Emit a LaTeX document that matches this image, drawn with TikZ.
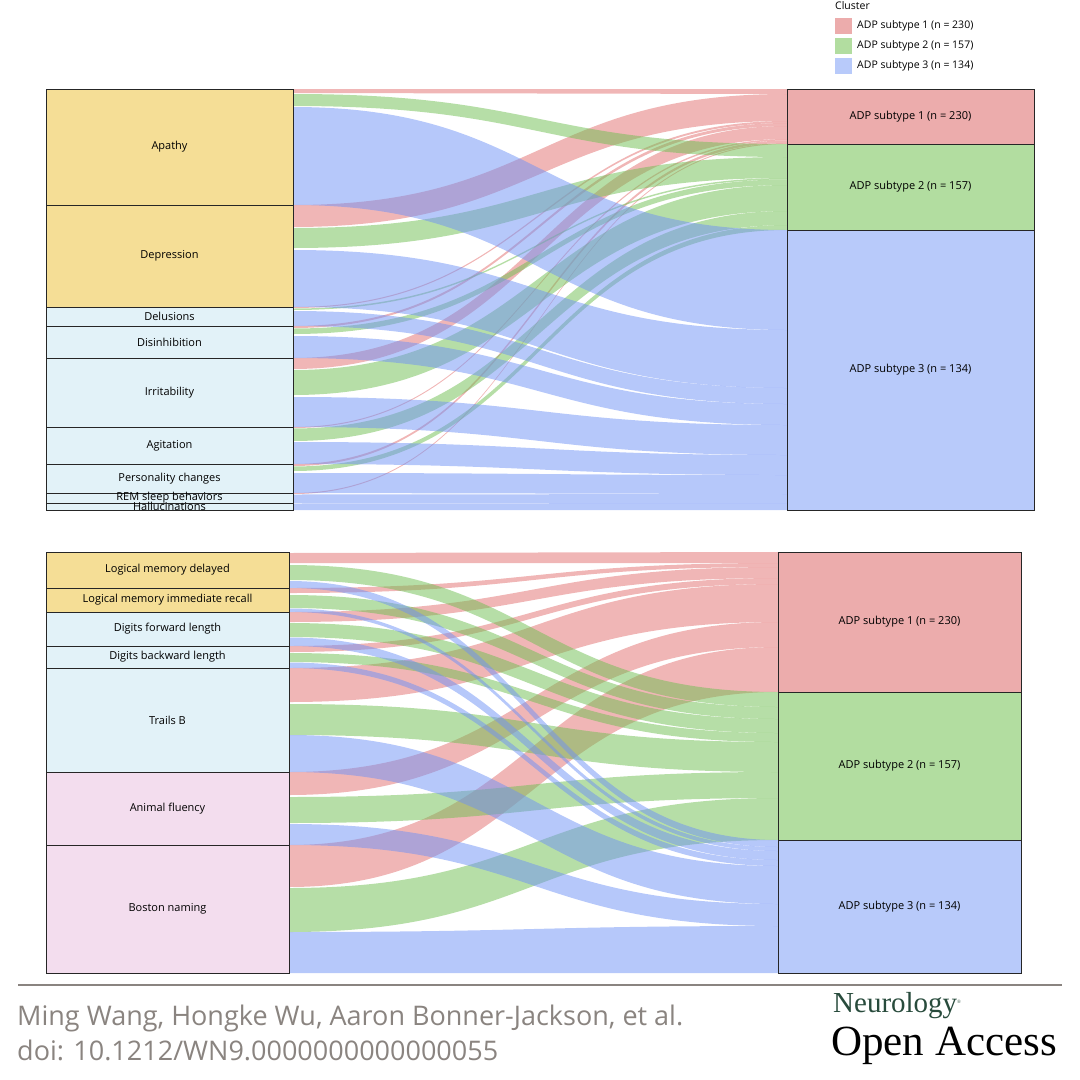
\documentclass[tikz,border=0pt]{standalone}
\usepackage{fontspec}
\setmainfont{Open Sans}
\newfontfamily\logofont{Liberation Serif}
\usetikzlibrary{positioning}

\definecolor{flowred}{RGB}{226,110,110}
\definecolor{flowgreen}{RGB}{110,190,80}
\definecolor{flowblue}{RGB}{110,145,245}
\definecolor{boxred}{RGB}{236,172,172}
\definecolor{boxgreen}{RGB}{178,221,160}
\definecolor{boxblue}{RGB}{184,202,250}
\definecolor{boxyellow}{RGB}{245,222,150}
\definecolor{boxcyan}{RGB}{226,242,248}
\definecolor{boxpink}{RGB}{243,221,238}
\definecolor{footgray}{RGB}{138,132,128}

% one band: colour, left x, right x, left top, left bottom, right top, right bottom
\newcommand\band[7]{%
  \fill[#1,fill opacity=0.5]
    (#2,#4) .. controls ({(#2+#3)/2},#4) and ({(#2+#3)/2},#6) .. (#3,#6)
    -- (#3,#7) .. controls ({(#2+#3)/2},#7) and ({(#2+#3)/2},#5) .. (#2,#5) -- cycle;}

\begin{document}
\begin{tikzpicture}[x=1pt,y=-1pt,
  box/.style={draw=black!85,line width=1pt},
  lab/.style={font=\fontsize{11}{13}\selectfont,inner sep=0pt},
  leg/.style={font=\fontsize{10.5}{12}\selectfont,anchor=west,inner sep=0pt}]
\useasboundingbox (0,0) rectangle (1080,1080);

% ---- top panel flows
\foreach \a/\b/\c/\d in {89/93/89/94, 205/227/94/121, 307/308/121/123, 326/328/123/126,
  358/369/126/139, 427/428/139/140.5, 464/466/140.5/143, 493/494/143/144}
  {\band{flowred}{293}{787}{\a}{\b}{\c}{\d}}
\foreach \a/\b/\c/\d in {94/106/144/157, 228/248/157/178, 308.5/310/178/179.5, 328.5/334/179.5/185,
  370/395/185/211, 428.5/441/211/225, 466.5/471/225/230}
  {\band{flowgreen}{293}{787}{\a}{\b}{\c}{\d}}
\foreach \a/\b/\c/\d in {107/205/230/330, 250/307/330/388, 311/326/388/404, 336/358/404/425,
  397/427/425/455, 442/464/455/475, 473/493/475/494, 494.5/503/494/503, 503.5/510/503/510}
  {\band{flowblue}{293}{787}{\a}{\b}{\c}{\d}}

% ---- bottom panel flows
\foreach \a/\b/\c/\d in {553/563/552/563, 588/593/563/567, 612/622/567/578, 646/652/578/584,
  668/702/584/622, 772/795/622/647, 845/887/647/692}
  {\band{flowred}{289}{778}{\a}{\b}{\c}{\d}}
\foreach \a/\b/\c/\d in {565/580/692/707, 595/608/707/719, 623/637/719/733, 653/662/733/742,
  704/735/742/772, 797/823/772/798, 888/932/798/840}
  {\band{flowgreen}{289}{778}{\a}{\b}{\c}{\d}}
\foreach \a/\b/\c/\d in {581/588/840/847, 608.5/612/847/851, 637.5/646/851/860, 662.5/668/860/866,
  735/772/866/904, 824/845/904/926, 932/973/926/973}
  {\band{flowblue}{289}{778}{\a}{\b}{\c}{\d}}

% ---- top panel boxes
\foreach \t/\b/\c/\txt in {89/205/boxyellow/Apathy, 205/307/boxyellow/Depression,
  307/326/boxcyan/Delusions, 326/358/boxcyan/Disinhibition, 358/427/boxcyan/Irritability,
  427/464/boxcyan/Agitation, 464/493/boxcyan/Personality changes,
  493/503/boxcyan/REM sleep behaviors, 503/510/boxcyan/Hallucinations}
  {\draw[box,fill=\c] (46,\t) rectangle (293,\b) node[midway,lab] {\txt};}
\foreach \t/\b/\c/\n/\k in {89/144/boxred/1/230, 144/230/boxgreen/2/157, 230/510/boxblue/3/134}
  {\draw[box,fill=\c] (787,\t) rectangle (1034,\b) node[midway,lab] {ADP subtype \n\ (n = \k)};}

% ---- bottom panel boxes
\foreach \t/\b/\c/\txt in {552/588/boxyellow/Logical memory delayed,
  588/612/boxyellow/Logical memory immediate recall, 612/646/boxcyan/Digits forward length,
  646/668/boxcyan/Digits backward length, 668/772/boxcyan/Trails B,
  772/845/boxpink/Animal fluency, 845/973/boxpink/Boston naming}
  {\draw[box,fill=\c] (46,\t) rectangle (289,\b) node[midway,lab] {\txt};}
\foreach \t/\b/\c/\n/\k in {552/692/boxred/1/230, 692/840/boxgreen/2/157, 840/973/boxblue/3/134}
  {\draw[box,fill=\c] (778,\t) rectangle (1021,\b) node[midway,lab] {ADP subtype \n\ (n = \k)};}

% ---- legend
\node[leg] (cluster) at (835,6) {Cluster};
\foreach \y/\c/\n/\k in {26/boxred/1/230, 46/boxgreen/2/157, 66/boxblue/3/134}
  {\fill[\c] (835,\y-8) rectangle (852,\y+8);
   \node[leg] at (857,\y) {ADP subtype \n\ (n = \k)};}

% ---- footer
\draw[footgray,line width=1.2pt] (18,985) -- (1062,985);
\node[anchor=west,inner sep=0pt,text=footgray,font=\fontsize{27}{30}\selectfont] (authors) at (17,1018)
  {Ming Wang, Hongke Wu, Aaron Bonner-Jackson, et al.};
\node[anchor=west,inner sep=0pt,text=footgray,font=\fontsize{27}{30}\selectfont] (doi) at (17,1050)
  {doi: 10.1212/WN9.0000000000000055};
\node[anchor=west,inner sep=0pt,text={rgb,255:red,40;green,75;blue,60},font=\logofont\fontsize{29}{32}\selectfont] (journal) at (833,1006)
  {Neurology\textsuperscript{\tiny\textregistered}};
\node[anchor=west,inner sep=0pt,font=\logofont\fontsize{43}{47}\selectfont] (oa) at (831,1046) {Open Access};
\end{tikzpicture}
\end{document}
